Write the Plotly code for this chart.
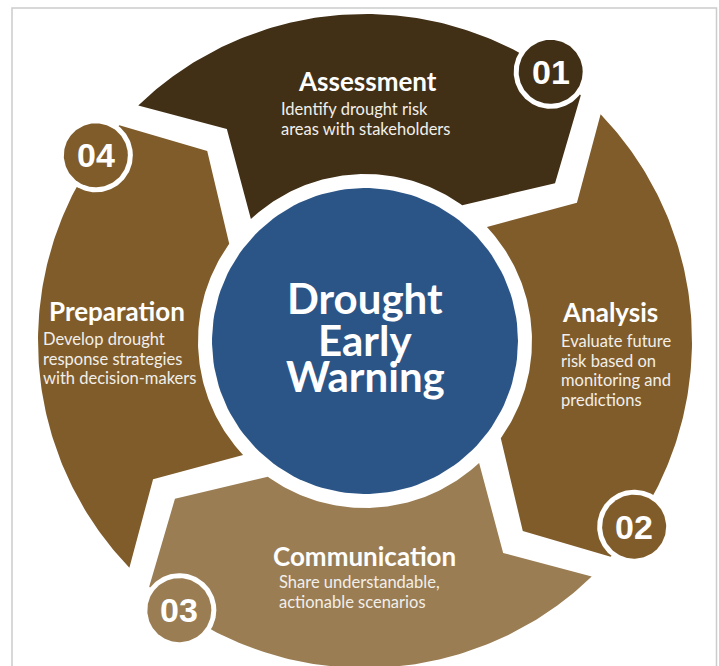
import numpy as np
import plotly.graph_objects as go

# ---------------- data ----------------
steps = ["Assessment", "Analysis", "Communication", "Preparation"]
step_numbers = ["01", "02", "03", "04"]
step_descriptions = [
    ["Identify drought risk", "areas with stakeholders"],
    ["Evaluate future", "risk based on", "monitoring and", "predictions"],
    ["Share understandable,", "actionable scenarios"],
    ["Develop drought", "response strategies", "with decision-makers"],
]
center_title = ["Drought", "Early", "Warning"]

# ---------------- styles ----------------
step_colors = ["#412F16", "#805C2A", "#9A7D53", "#805C2A"]
center_color = "#2C5587"
title_font = "Lato"
body_font = "Lato"
num_font = "Liberation Sans"

W, H = 719, 666
CX, CY = 365, 341
R_OUT, R_IN, R_CENTER = 327, 167, 153
# boundary of the first step (polar, math degrees); others are rotated by -90 deg each
START = [(R_OUT, 133.9), (253, 123.1), (R_IN, 133.1)]   # outer, kink, inner
END = [(R_OUT, 48.7), (247, 39.7), (R_IN, 54.4)]
BADGE_R, BADGE_A = 327, 55.4
BADGE_RING, BADGE_FILL = 37, 32

# label layout (pixel positions)
title_pos = [(367, 81), (610, 312), (364, 556), (117, 311)]
desc_pos = [(279, 109), (559, 341), (277, 582), (41, 339)]
desc_step = 19.5
center_pos = [298, 340, 376]


def pt(r, a):
    t = np.radians(a)
    return CX + r * np.cos(t), CY - r * np.sin(t)


def circle(cx, cy, r, n=160):
    t = np.linspace(0, 2 * np.pi, n)
    return list(cx + r * np.cos(t)), list(cy + r * np.sin(t))


fig = go.Figure()

for k, name in enumerate(steps):
    off = -90 * k
    xs, ys = [], []
    for a in np.linspace(START[0][1] + off, END[0][1] + off, 120):
        x, y = pt(R_OUT, a); xs.append(x); ys.append(y)
    x, y = pt(END[1][0], END[1][1] + off); xs.append(x); ys.append(y)
    for a in np.linspace(END[2][1] + off, START[2][1] + off, 90):
        x, y = pt(R_IN, a); xs.append(x); ys.append(y)
    x, y = pt(START[1][0], START[1][1] + off); xs.append(x); ys.append(y)
    xs.append(xs[0]); ys.append(ys[0])
    fig.add_trace(go.Scatter(x=xs, y=ys, mode="lines", fill="toself",
                             fillcolor=step_colors[k], line=dict(width=0, color=step_colors[k]),
                             hoverinfo="skip", showlegend=False))

# centre disc
cx_, cy_ = circle(CX, CY, R_CENTER)
fig.add_trace(go.Scatter(x=cx_, y=cy_, mode="lines", fill="toself", fillcolor=center_color,
                         line=dict(width=0, color=center_color), hoverinfo="skip", showlegend=False))

# number badges
for k, num in enumerate(step_numbers):
    bx, by = pt(BADGE_R, BADGE_A - 90 * k)
    rx, ry = circle(bx, by, BADGE_RING)
    fig.add_trace(go.Scatter(x=rx, y=ry, mode="lines", fill="toself", fillcolor="white",
                             line=dict(width=0, color="white"), hoverinfo="skip", showlegend=False))
    fx, fy = circle(bx, by, BADGE_FILL)
    fig.add_trace(go.Scatter(x=fx, y=fy, mode="lines", fill="toself", fillcolor=step_colors[k],
                             line=dict(width=0, color=step_colors[k]), hoverinfo="skip", showlegend=False))
    fig.add_annotation(x=bx, y=by, text=f"<b>{num}</b>", showarrow=False,
                       xanchor="center", yanchor="middle",
                       font=dict(family=num_font, size=34, color="white"))

# step titles and descriptions
for k, name in enumerate(steps):
    tx, ty = title_pos[k]
    fig.add_annotation(x=tx, y=ty, text=f"<b>{name}</b>", showarrow=False,
                       xanchor="center", yanchor="middle",
                       font=dict(family=title_font, size=26, color="white"))
    dx, dy = desc_pos[k]
    for i, line in enumerate(step_descriptions[k]):
        fig.add_annotation(x=dx, y=dy + i * desc_step, text=line, showarrow=False,
                           xanchor="left", yanchor="middle",
                           font=dict(family=body_font, size=16.5, color="#F2EFEA"))

for i, line in enumerate(center_title):
    fig.add_annotation(x=CX, y=center_pos[i], text=f"<b>{line}</b>", showarrow=False,
                       xanchor="center", yanchor="middle",
                       font=dict(family=title_font, size=42, color="white"))

# thin frame
fig.add_shape(type="rect", x0=12, y0=8, x1=716.5, y1=720, xref="x", yref="y",
              line=dict(color="#CCCCCC", width=1.5), fillcolor="rgba(0,0,0,0)", layer="below")

fig.update_layout(
    width=W, height=H, autosize=False,
    margin=dict(l=0, r=0, t=0, b=0, pad=0),
    paper_bgcolor="white", plot_bgcolor="white",
    xaxis=dict(range=[0, W], visible=False, fixedrange=True),
    yaxis=dict(range=[H, 0], visible=False, fixedrange=True),
)

fig.write_html("out.html", config={"displayModeBar": False},
               post_script="document.body.style.margin='0px';")
